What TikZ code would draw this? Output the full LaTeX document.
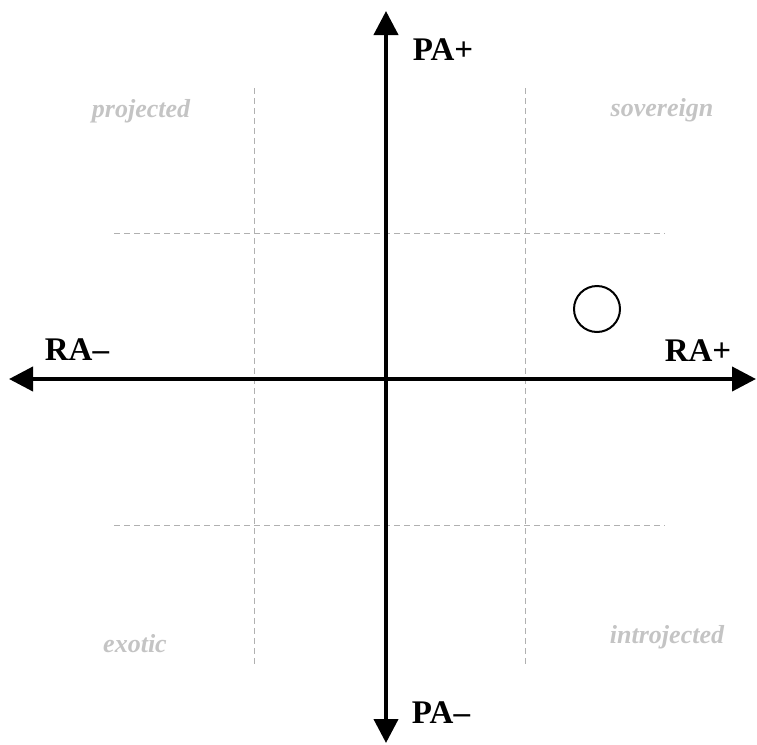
\documentclass[tikz,border=0pt]{standalone}
\usepackage{fontspec}
\setmainfont{Liberation Serif}
\usetikzlibrary{arrows.meta}
\definecolor{lbl}{HTML}{C4C4C4}
\definecolor{grid}{HTML}{B0B0B0}
\tikzset{
  axis/.style={line width=4pt,-{Triangle[length=24pt,width=24pt]}},
  gridline/.style={draw=grid,line width=1pt,dash pattern=on 6pt off 4pt},
  axislabel/.style={anchor=base,inner sep=0pt,font=\fontsize{33}{36}\selectfont\bfseries},
  zonelabel/.style={anchor=base,inner sep=0pt,text=lbl,font=\fontsize{26}{30}\selectfont\bfseries\itshape},
}
\begin{document}
\begin{tikzpicture}[x=1pt,y=-1pt]
\useasboundingbox (0,0) rectangle (757,744);
% grid
\coordinate (v1t) at (254,88);  \coordinate (v1b) at (254,664);
\coordinate (v2t) at (525,88);  \coordinate (v2b) at (525,664);
\coordinate (h1l) at (114,233); \coordinate (h1r) at (665,233);
\coordinate (h2l) at (114,525); \coordinate (h2r) at (665,525);
\draw[gridline] (v1t) -- (v1b);
\draw[gridline] (v2t) -- (v2b);
\draw[gridline] (h1l) -- (h1r);
\draw[gridline] (h2l) -- (h2r);
% axes
\coordinate (o) at (386,379);
\coordinate (top) at (386,11);
\coordinate (bot) at (386,743);
\coordinate (left) at (9,379);
\coordinate (right) at (756,379);
\draw[axis] (o) -- (top);
\draw[axis] (o) -- (bot);
\draw[axis] (o) -- (left);
\draw[axis] (o) -- (right);
% labels
\node[axislabel] (pap) at (443,60) {PA+};
\node[axislabel] (pam) at (441,723) {PA–};
\node[axislabel] (ram) at (77,360) {RA–};
\node[axislabel] (rap) at (698,361) {RA+};
\node[zonelabel] (proj) at (141,117) {projected};
\node[zonelabel] (sov) at (662,116) {sovereign};
\node[zonelabel] (exo) at (135,652) {exotic};
\node[zonelabel] (intro) at (667,643) {introjected};
% marker
\node[circle,draw,line width=2pt,minimum size=46pt,inner sep=0pt] (dot) at (597,309) {};
\end{tikzpicture}
\end{document}
